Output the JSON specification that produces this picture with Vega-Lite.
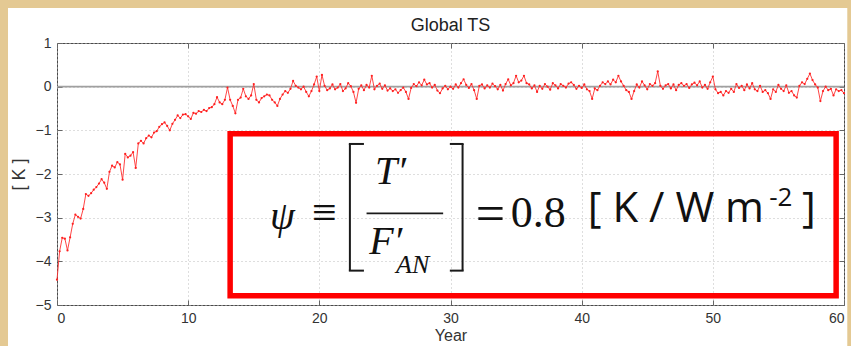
{
"$schema": "https://vega.github.io/schema/vega-lite/v6.json",
"width": 787, "height": 262,
"autosize": {"type": "none"},
"padding": {"left": 57, "top": 43, "right": 7, "bottom": 41},
"background": "white",
"title": {"text": "Global TS", "font": "Liberation Sans", "fontSize": 18, "fontWeight": "normal", "color": "#222222", "baseline": "alphabetic", "offset": -30, "dy": 20, "anchor": "middle", "frame": "group"},
"data": {"values": [{"k": 1}]},
"datasets": {
"ts": [
{"t":0.0,"v":-4.42},{"t":0.2,"v":-3.77},{"t":0.4,"v":-3.46},{"t":0.6,"v":-3.48},{"t":0.8,"v":-3.75},{"t":1.0,"v":-3.45},{"t":1.2,"v":-3.14},{"t":1.4,"v":-2.93},{"t":1.6,"v":-2.98},{"t":1.8,"v":-3.02},
{"t":2.0,"v":-2.80},{"t":2.2,"v":-2.46},{"t":2.4,"v":-2.50},{"t":2.6,"v":-2.44},{"t":2.8,"v":-2.36},{"t":3.0,"v":-2.30},{"t":3.2,"v":-2.22},{"t":3.4,"v":-2.12},{"t":3.6,"v":-2.20},{"t":3.8,"v":-2.34},
{"t":4.0,"v":-1.95},{"t":4.2,"v":-1.81},{"t":4.4,"v":-1.85},{"t":4.6,"v":-1.73},{"t":4.8,"v":-1.78},{"t":5.0,"v":-2.13},{"t":5.2,"v":-1.54},{"t":5.4,"v":-1.62},{"t":5.6,"v":-1.58},{"t":5.8,"v":-1.50},
{"t":6.0,"v":-1.86},{"t":6.2,"v":-1.30},{"t":6.4,"v":-1.24},{"t":6.6,"v":-1.30},{"t":6.8,"v":-1.18},{"t":7.0,"v":-1.12},{"t":7.2,"v":-1.16},{"t":7.4,"v":-1.05},{"t":7.6,"v":-1.02},{"t":7.8,"v":-0.92},
{"t":8.0,"v":-0.86},{"t":8.2,"v":-0.82},{"t":8.4,"v":-0.90},{"t":8.6,"v":-1.00},{"t":8.8,"v":-0.85},{"t":9.0,"v":-0.76},{"t":9.2,"v":-0.66},{"t":9.4,"v":-0.72},{"t":9.6,"v":-0.64},{"t":9.8,"v":-0.63},
{"t":10.0,"v":-0.68},{"t":10.2,"v":-0.74},{"t":10.4,"v":-0.60},{"t":10.6,"v":-0.62},{"t":10.8,"v":-0.56},{"t":11.0,"v":-0.58},{"t":11.2,"v":-0.53},{"t":11.4,"v":-0.56},{"t":11.6,"v":-0.49},{"t":11.8,"v":-0.47},
{"t":12.0,"v":-0.40},{"t":12.2,"v":-0.24},{"t":12.4,"v":-0.36},{"t":12.6,"v":-0.40},{"t":12.8,"v":-0.30},{"t":13.0,"v":-0.02},{"t":13.2,"v":-0.30},{"t":13.4,"v":-0.44},{"t":13.6,"v":-0.61},{"t":13.8,"v":-0.30},
{"t":14.0,"v":-0.25},{"t":14.2,"v":-0.05},{"t":14.4,"v":-0.22},{"t":14.6,"v":-0.28},{"t":14.8,"v":-0.20},{"t":15.0,"v":0.06},{"t":15.2,"v":-0.30},{"t":15.4,"v":-0.36},{"t":15.6,"v":-0.26},{"t":15.8,"v":-0.22},
{"t":16.0,"v":-0.18},{"t":16.2,"v":-0.20},{"t":16.4,"v":-0.30},{"t":16.6,"v":-0.36},{"t":16.8,"v":-0.44},{"t":17.0,"v":-0.28},{"t":17.2,"v":-0.18},{"t":17.4,"v":-0.10},{"t":17.6,"v":-0.14},{"t":17.8,"v":-0.05},
{"t":18.0,"v":0.13},{"t":18.2,"v":0.02},{"t":18.4,"v":-0.02},{"t":18.6,"v":-0.06},{"t":18.8,"v":0.00},{"t":19.0,"v":-0.12},{"t":19.2,"v":-0.22},{"t":19.4,"v":-0.10},{"t":19.6,"v":0.05},{"t":19.8,"v":0.23},
{"t":20.0,"v":-0.10},{"t":20.2,"v":0.27},{"t":20.4,"v":0.02},{"t":20.6,"v":-0.08},{"t":20.8,"v":-0.04},{"t":21.0,"v":0.05},{"t":21.2,"v":-0.06},{"t":21.4,"v":-0.02},{"t":21.6,"v":0.06},{"t":21.8,"v":-0.10},
{"t":22.0,"v":-0.04},{"t":22.2,"v":0.08},{"t":22.4,"v":0.01},{"t":22.6,"v":-0.12},{"t":22.8,"v":-0.37},{"t":23.0,"v":-0.05},{"t":23.2,"v":0.03},{"t":23.4,"v":-0.08},{"t":23.6,"v":0.04},{"t":23.8,"v":-0.02},
{"t":24.0,"v":0.25},{"t":24.2,"v":-0.06},{"t":24.4,"v":0.02},{"t":24.6,"v":0.07},{"t":24.8,"v":-0.05},{"t":25.0,"v":0.03},{"t":25.2,"v":-0.09},{"t":25.4,"v":-0.04},{"t":25.6,"v":-0.10},{"t":25.8,"v":-0.06},
{"t":26.0,"v":-0.14},{"t":26.2,"v":-0.08},{"t":26.4,"v":-0.02},{"t":26.6,"v":-0.12},{"t":26.8,"v":-0.28},{"t":27.0,"v":-0.03},{"t":27.2,"v":0.06},{"t":27.4,"v":0.01},{"t":27.6,"v":0.10},{"t":27.8,"v":0.03},
{"t":28.0,"v":0.16},{"t":28.2,"v":0.05},{"t":28.4,"v":0.08},{"t":28.6,"v":-0.02},{"t":28.8,"v":0.04},{"t":29.0,"v":-0.09},{"t":29.2,"v":-0.15},{"t":29.4,"v":-0.04},{"t":29.6,"v":0.02},{"t":29.8,"v":-0.06},
{"t":30.0,"v":0.00},{"t":30.2,"v":-0.05},{"t":30.4,"v":0.05},{"t":30.6,"v":-0.02},{"t":30.8,"v":0.08},{"t":31.0,"v":0.17},{"t":31.2,"v":0.04},{"t":31.4,"v":-0.03},{"t":31.6,"v":0.06},{"t":31.8,"v":-0.08},
{"t":32.0,"v":-0.28},{"t":32.2,"v":0.02},{"t":32.4,"v":0.05},{"t":32.6,"v":-0.04},{"t":32.8,"v":0.03},{"t":33.0,"v":-0.02},{"t":33.2,"v":0.07},{"t":33.4,"v":0.01},{"t":33.6,"v":-0.06},{"t":33.8,"v":0.04},
{"t":34.0,"v":-0.09},{"t":34.2,"v":0.06},{"t":34.4,"v":0.17},{"t":34.6,"v":0.03},{"t":34.8,"v":0.08},{"t":35.0,"v":0.25},{"t":35.2,"v":0.10},{"t":35.4,"v":0.14},{"t":35.6,"v":0.25},{"t":35.8,"v":0.08},
{"t":36.0,"v":0.05},{"t":36.2,"v":-0.04},{"t":36.4,"v":0.03},{"t":36.6,"v":-0.12},{"t":36.8,"v":0.02},{"t":37.0,"v":-0.05},{"t":37.2,"v":0.06},{"t":37.4,"v":0.00},{"t":37.6,"v":-0.07},{"t":37.8,"v":0.08},
{"t":38.0,"v":0.03},{"t":38.2,"v":-0.04},{"t":38.4,"v":0.06},{"t":38.6,"v":0.02},{"t":38.8,"v":-0.02},{"t":39.0,"v":0.07},{"t":39.2,"v":0.10},{"t":39.4,"v":0.04},{"t":39.6,"v":-0.05},{"t":39.8,"v":0.02},
{"t":40.0,"v":-0.03},{"t":40.2,"v":0.05},{"t":40.4,"v":-0.06},{"t":40.6,"v":-0.10},{"t":40.8,"v":-0.28},{"t":41.0,"v":-0.04},{"t":41.2,"v":-0.08},{"t":41.4,"v":0.02},{"t":41.6,"v":0.10},{"t":41.8,"v":0.06},
{"t":42.0,"v":0.12},{"t":42.2,"v":0.05},{"t":42.4,"v":0.16},{"t":42.6,"v":0.10},{"t":42.8,"v":0.25},{"t":43.0,"v":0.12},{"t":43.2,"v":0.02},{"t":43.4,"v":-0.08},{"t":43.6,"v":-0.12},{"t":43.8,"v":-0.28},
{"t":44.0,"v":-0.10},{"t":44.2,"v":0.05},{"t":44.4,"v":-0.02},{"t":44.6,"v":0.12},{"t":44.8,"v":0.03},{"t":45.0,"v":-0.06},{"t":45.2,"v":0.06},{"t":45.4,"v":0.02},{"t":45.6,"v":0.08},{"t":45.8,"v":0.35},
{"t":46.0,"v":0.02},{"t":46.2,"v":-0.05},{"t":46.4,"v":0.03},{"t":46.6,"v":0.06},{"t":46.8,"v":-0.04},{"t":47.0,"v":0.05},{"t":47.2,"v":-0.08},{"t":47.4,"v":0.04},{"t":47.6,"v":0.08},{"t":47.8,"v":0.02},
{"t":48.0,"v":0.06},{"t":48.2,"v":-0.03},{"t":48.4,"v":0.05},{"t":48.6,"v":0.09},{"t":48.8,"v":0.03},{"t":49.0,"v":0.12},{"t":49.2,"v":-0.02},{"t":49.4,"v":0.04},{"t":49.6,"v":-0.05},{"t":49.8,"v":0.10},
{"t":50.0,"v":0.23},{"t":50.2,"v":-0.06},{"t":50.4,"v":-0.15},{"t":50.6,"v":-0.12},{"t":50.8,"v":-0.20},{"t":51.0,"v":-0.10},{"t":51.2,"v":-0.14},{"t":51.4,"v":-0.05},{"t":51.6,"v":-0.12},{"t":51.8,"v":0.06},
{"t":52.0,"v":-0.03},{"t":52.2,"v":0.02},{"t":52.4,"v":-0.08},{"t":52.6,"v":0.05},{"t":52.8,"v":-0.04},{"t":53.0,"v":0.08},{"t":53.2,"v":-0.06},{"t":53.4,"v":-0.10},{"t":53.6,"v":0.02},{"t":53.8,"v":-0.12},
{"t":54.0,"v":-0.08},{"t":54.2,"v":-0.15},{"t":54.4,"v":-0.28},{"t":54.6,"v":-0.06},{"t":54.8,"v":-0.12},{"t":55.0,"v":0.04},{"t":55.2,"v":-0.05},{"t":55.4,"v":-0.10},{"t":55.6,"v":0.03},{"t":55.8,"v":-0.14},
{"t":56.0,"v":-0.10},{"t":56.2,"v":-0.20},{"t":56.4,"v":-0.25},{"t":56.6,"v":0.02},{"t":56.8,"v":0.10},{"t":57.0,"v":0.06},{"t":57.2,"v":0.18},{"t":57.4,"v":0.30},{"t":57.6,"v":0.15},{"t":57.8,"v":0.05},
{"t":58.0,"v":-0.02},{"t":58.2,"v":-0.33},{"t":58.4,"v":-0.10},{"t":58.6,"v":0.00},{"t":58.8,"v":-0.08},{"t":59.0,"v":-0.05},{"t":59.2,"v":-0.20},{"t":59.4,"v":-0.06},{"t":59.6,"v":-0.10},{"t":59.8,"v":-0.08},
{"t":60.0,"v":-0.15}
]
},
"layer": [
{"mark": {"type": "rect", "color": "#e4c993"}, "encoding": {"x": {"datum": -4.4, "axis": null}, "x2": {"datum": -3.735}, "y": {"datum": 2.0, "axis": null}, "y2": {"datum": -6.0}}},
{"mark": {"type": "rect", "color": "#e4c993"}, "encoding": {"x": {"datum": -4.4, "axis": null}, "x2": {"datum": 60.6}, "y": {"datum": 2.0, "axis": null}, "y2": {"datum": 1.80}}},
{"mark": {"type": "rect", "color": "#e4c993"}, "encoding": {"x": {"datum": 60.25, "axis": null}, "x2": {"datum": 60.6}, "y": {"datum": 2.0, "axis": null}, "y2": {"datum": -6.0}}},
{"mark": {"type": "rule", "color": "#a0a0a0", "strokeWidth": 1.6}, "encoding": {"y": {"datum": 0, "axis": null}}},
{"data": {"name": "ts"},
 "mark": {"type": "line", "color": "#ff3030", "strokeWidth": 0.9, "point": {"filled": true, "size": 5, "color": "#ff2020"}},
 "encoding": {
  "x": {"field": "t", "type": "quantitative", "scale": {"domain": [0, 60], "nice": false, "zero": false},
        "axis": {"orient": "bottom", "values": [0,10,20,30,40,50,60], "format": "d", "title": "Year", "grid": true}},
  "y": {"field": "v", "type": "quantitative", "scale": {"domain": [-5, 1], "nice": false, "zero": false},
        "axis": {"orient": "left", "values": [-5,-4,-3,-2,-1,0,1], "format": "d", "title": "[ K ]", "titleFontSize": 18, "titlePadding": 7, "grid": true}}
 }},
{"mark": {"type": "rect", "filled": false, "stroke": "#ff0000", "color": "#ff0000", "strokeWidth": 5.5},
 "encoding": {
  "x": {"datum": 13.2, "axis": {"orient": "top", "values": [0,10,20,30,40,50,60], "labels": false, "title": null, "grid": false, "domain": false, "minExtent": 0, "maxExtent": 0}},
  "x2": {"datum": 59.4},
  "y": {"datum": -1.076, "axis": {"orient": "right", "values": [-5,-4,-3,-2,-1,0,1], "labels": false, "title": null, "grid": false, "domain": false, "minExtent": 0, "maxExtent": 0}},
  "y2": {"datum": -4.786}
 }},
{"mark": {"type": "rule", "color": "#1a1a1a", "strokeWidth": 1.6}, "encoding": {"x": {"datum": 23.6, "axis": null}, "x2": {"datum": 29.44}, "y": {"datum": -2.901, "axis": null}}},
{"mark": {"type": "rule", "color": "#1a1a1a", "strokeWidth": 2}, "encoding": {"x": {"datum": 22.33, "axis": null}, "y": {"datum": -1.312, "axis": null}, "y2": {"datum": -4.213}}},
{"mark": {"type": "rule", "color": "#1a1a1a", "strokeWidth": 2}, "encoding": {"x": {"datum": 22.25, "axis": null}, "x2": {"datum": 23.4}, "y": {"datum": -1.312, "axis": null}}},
{"mark": {"type": "rule", "color": "#1a1a1a", "strokeWidth": 2}, "encoding": {"x": {"datum": 22.25, "axis": null}, "x2": {"datum": 23.4}, "y": {"datum": -4.213, "axis": null}}},
{"mark": {"type": "rule", "color": "#1a1a1a", "strokeWidth": 2}, "encoding": {"x": {"datum": 30.92, "axis": null}, "y": {"datum": -1.312, "axis": null}, "y2": {"datum": -4.213}}},
{"mark": {"type": "rule", "color": "#1a1a1a", "strokeWidth": 2}, "encoding": {"x": {"datum": 29.95, "axis": null}, "x2": {"datum": 31.0}, "y": {"datum": -1.312, "axis": null}}},
{"mark": {"type": "rule", "color": "#1a1a1a", "strokeWidth": 2}, "encoding": {"x": {"datum": 29.95, "axis": null}, "x2": {"datum": 31.0}, "y": {"datum": -4.213, "axis": null}}},
{"mark": {"type": "text", "text": "ψ", "font": "Liberation Serif", "fontStyle": "italic", "fontSize": 40, "color": "#111111", "align": "center", "baseline": "alphabetic"}, "encoding": {"x": {"datum": 17.19, "axis": null}, "y": {"datum": -3.25, "axis": null}}},
{"mark": {"type": "text", "text": "≡", "font": "Liberation Serif", "fontSize": 44, "color": "#111111", "align": "center", "baseline": "alphabetic"}, "encoding": {"x": {"datum": 20.39, "axis": null}, "y": {"datum": -3.222, "axis": null}}},
{"mark": {"type": "text", "text": "T′", "font": "Liberation Serif", "fontStyle": "italic", "fontSize": 40, "color": "#111111", "align": "center", "baseline": "alphabetic"}, "encoding": {"x": {"datum": 25.43, "axis": null}, "y": {"datum": -2.228, "axis": null}}},
{"mark": {"type": "text", "text": "F′", "font": "Liberation Serif", "fontStyle": "italic", "fontSize": 40, "color": "#111111", "align": "left", "baseline": "alphabetic"}, "encoding": {"x": {"datum": 23.8, "axis": null}, "y": {"datum": -3.831, "axis": null}}},
{"mark": {"type": "text", "text": "AN", "font": "Liberation Serif", "fontStyle": "italic", "fontSize": 26, "color": "#111111", "align": "left", "baseline": "alphabetic"}, "encoding": {"x": {"datum": 25.85, "axis": null}, "y": {"datum": -4.26, "axis": null}}},
{"mark": {"type": "text", "text": "=", "font": "Liberation Serif", "fontSize": 52, "color": "#111111", "align": "center", "baseline": "alphabetic"}, "encoding": {"x": {"datum": 33.05, "axis": null}, "y": {"datum": -3.3, "axis": null}}},
{"mark": {"type": "text", "text": "0.8", "font": "Liberation Serif", "fontSize": 44, "color": "#111111", "align": "left", "baseline": "alphabetic"}, "encoding": {"x": {"datum": 34.6, "axis": null}, "y": {"datum": -3.222, "axis": null}}},
{"mark": {"type": "text", "text": "[ K / W m", "font": "Open Sans", "fontSize": 42, "color": "#111111", "align": "left", "baseline": "alphabetic"}, "encoding": {"x": {"datum": 40.47, "axis": null}, "y": {"datum": -3.107, "axis": null}}},
{"mark": {"type": "text", "text": "-2", "font": "Open Sans", "fontSize": 26, "color": "#111111", "align": "left", "baseline": "alphabetic"}, "encoding": {"x": {"datum": 54.3, "axis": null}, "y": {"datum": -2.725, "axis": null}}},
{"mark": {"type": "text", "text": "]", "font": "Open Sans", "fontSize": 42, "color": "#111111", "align": "left", "baseline": "alphabetic"}, "encoding": {"x": {"datum": 56.8, "axis": null}, "y": {"datum": -3.107, "axis": null}}}
],
"resolve": {"axis": {"x": "independent", "y": "independent"}},
"config": {
 "view": {"stroke": "#4a4a4a", "strokeWidth": 1},
 "axis": {"domain": false, "tickSize": -5, "tickColor": "#666666", "tickWidth": 1, "labelPadding": 11,
          "labelFont": "Liberation Sans", "labelFontSize": 14, "labelColor": "#333333",
          "titleFont": "Liberation Sans", "titleFontSize": 16, "titleFontWeight": "normal", "titleColor": "#333333",
          "gridColor": "#bdbdbd", "gridDash": [1, 3], "gridWidth": 1, "gridOpacity": 1},
 "axisX": {"titlePadding": 2}
}
}
